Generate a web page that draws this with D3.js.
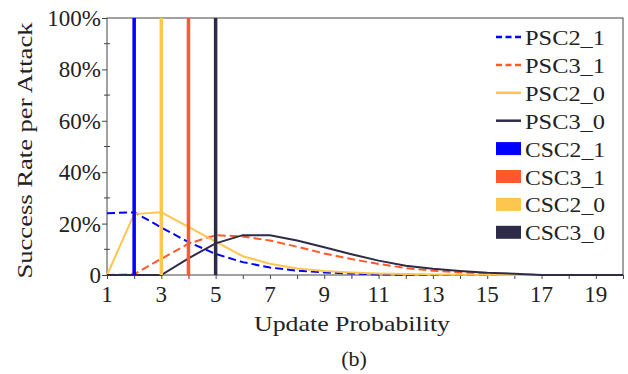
<!DOCTYPE html>
<html lang="en">
<head>
    <meta charset="UTF-8">
    <title>Success Rate per Attack</title>
    <script src="https://d3js.org/d3.v7.min.js"></script>
    <style>
        body{
            margin:0;
            background:#fff;
        }
        svg text{
            font-family:'Liberation Serif','Times New Roman',serif;
            fill:#222;
        }
    </style>
</head>
<body>
    <svg id="chart" width="628" height="374"></svg>
    <script>
        // update probability on the x axis
        const updateProb = [1,2,3,4,5,6,7,8,9,10,11,12,13,14,15,16,17,18,19,20];
        // success rate (%) of each PSC series
        const psc2_1 = [24.0,24.4,18.5,12.8,8.2,5.0,2.9,1.7,1.0,0.6,0.2,0.1,0,0,0,0,0,0,0,0];
        const psc3_1 = [0,0.3,6.3,12.2,15.5,15.0,13.4,11.0,8.4,6.2,4.3,2.7,1.7,1.0,0.6,0.2,0,0,0,0];
        const psc2_0 = [0,23.7,24.4,18.7,13.0,7.3,4.4,2.5,1.6,1.0,0.6,0.4,0.2,0.1,0.1,0,0,0,0,0];
        const psc3_0 = [0,0,0,6.5,12.3,15.5,15.5,13.4,10.8,8.1,5.6,3.6,2.4,1.6,0.9,0.5,0,0,0,0];
        // CSC series are single vertical lines
        const cscNames = ['CSC2_1','CSC3_1','CSC2_0','CSC3_0'];
        const cscX = [2,4,3,5];
        const yTicks = [0,20,40,60,80,100];
        const xTicks = [1,3,5,7,9,11,13,15,17,19];

        const colors = {'2_1':'#0000ff','3_1':'#ff5a2c','2_0':'#ffc64f','3_0':'#2d2b47'};

        const psc = [
            {name:'PSC2_1',key:'2_1',values:psc2_1,dash:true},
            {name:'PSC3_1',key:'3_1',values:psc3_1,dash:true},
            {name:'PSC2_0',key:'2_0',values:psc2_0,dash:false},
            {name:'PSC3_0',key:'3_0',values:psc3_0,dash:false}
        ];
        const csc = cscNames.map((n,i)=>({name:n,key:n.slice(3),x:cscX[i]}));

        const svg = d3.select('#chart');
        const m = {left:107,right:5,top:18,bottom:99};
        const W = 628, H = 374;

        const x = d3.scaleLinear().domain([1,20]).range([m.left,W-m.right]);
        const y = d3.scaleLinear().domain([0,100]).range([H-m.bottom,m.top]);

        // frame
        svg.append('rect')
            .attr('x',x(1)).attr('y',y(100))
            .attr('width',x(20)-x(1)).attr('height',y(0)-y(100))
            .attr('fill','none').attr('stroke','#444').attr('stroke-width',1);

        // x axis
        const xAxis = svg.append('g')
            .attr('transform',`translate(0,${y(0)})`)
            .call(d3.axisBottom(x).tickValues(d3.range(1,21)).tickSize(4).tickFormat(''));
        xAxis.select('.domain').remove();
        xAxis.selectAll('line').attr('stroke','#444');
        svg.append('g').selectAll('text')
            .data(xTicks)
            .join('text')
            .attr('x',d=>x(d))
            .attr('y',y(0)+27)
            .attr('text-anchor','middle')
            .attr('font-size',23)
            .text(d=>d);

        // y axis
        const yAxis = svg.append('g')
            .attr('transform',`translate(${x(1)},0)`)
            .call(d3.axisLeft(y).tickValues(yTicks).tickSize(5).tickFormat(d=>d===0?'0':d+'%'));
        yAxis.select('.domain').remove();
        yAxis.selectAll('line').attr('stroke','#444');
        yAxis.selectAll('text')
            .attr('font-size',23)
            .attr('fill','#222')
            .attr('x',-6)
            .attr('dy','0.33em');
        svg.append('g').selectAll('line')
            .data([10,30,50,70,90])
            .join('line')
            .attr('x1',x(1)-3).attr('x2',x(1)+3)
            .attr('y1',d=>y(d)).attr('y2',d=>y(d))
            .attr('stroke','#444');

        // axis titles
        svg.append('text')
            .attr('transform',`translate(32,${(y(0)+y(100))/2+4}) rotate(-90)`)
            .attr('text-anchor','middle')
            .attr('font-size',22)
            .attr('textLength',256)
            .attr('lengthAdjust','spacingAndGlyphs')
            .text('Success Rate per Attack');
        svg.append('text')
            .attr('x',352).attr('y',331)
            .attr('text-anchor','middle')
            .attr('font-size',22)
            .attr('textLength',196)
            .attr('lengthAdjust','spacingAndGlyphs')
            .text('Update Probability');
        svg.append('text')
            .attr('x',354).attr('y',366)
            .attr('text-anchor','middle')
            .attr('font-size',22)
            .text('(b)');

        // PSC curves
        const line = d3.line()
            .x((d,i)=>x(updateProb[i]))
            .y(d=>y(d));
        svg.append('g').selectAll('path')
            .data(psc)
            .join('path')
            .attr('d',d=>line(d.values))
            .attr('fill','none')
            .attr('stroke',d=>colors[d.key])
            .attr('stroke-width',2)
            .attr('stroke-dasharray',d=>d.dash?'8,4':null);

        // CSC vertical lines
        svg.append('g').selectAll('line')
            .data(csc)
            .join('line')
            .attr('x1',d=>x(d.x)).attr('x2',d=>x(d.x))
            .attr('y1',y(0)).attr('y2',y(100))
            .attr('stroke',d=>colors[d.key])
            .attr('stroke-width',3.5);

        // legend
        const items = psc.map(d=>({name:d.name,key:d.key,type:d.dash?'dash':'line'}))
            .concat(csc.map(d=>({name:d.name,key:d.key,type:'rect'})));
        svg.append('g').selectAll('g')
            .data(items)
            .join('g')
            .attr('transform',(d,i)=>`translate(496,${37+i*27.9})`)
            .each(function(d){
                const g = d3.select(this);
                if(d.type==='rect'){
                    g.append('rect')
                        .attr('x',0).attr('y',-6.5)
                        .attr('width',25).attr('height',13)
                        .attr('fill',colors[d.key]);
                }else{
                    g.append('line')
                        .attr('x1',0).attr('x2',25)
                        .attr('stroke',colors[d.key])
                        .attr('stroke-width',2.5)
                        .attr('stroke-dasharray',d.type==='dash'?'6,3.5':null);
                }
                g.append('text')
                    .attr('x',29).attr('y',8)
                    .attr('font-size',22)
                    .attr('textLength',80)
                    .attr('lengthAdjust','spacingAndGlyphs')
                    .text(d.name);
            });
    </script>
</body>
</html>
